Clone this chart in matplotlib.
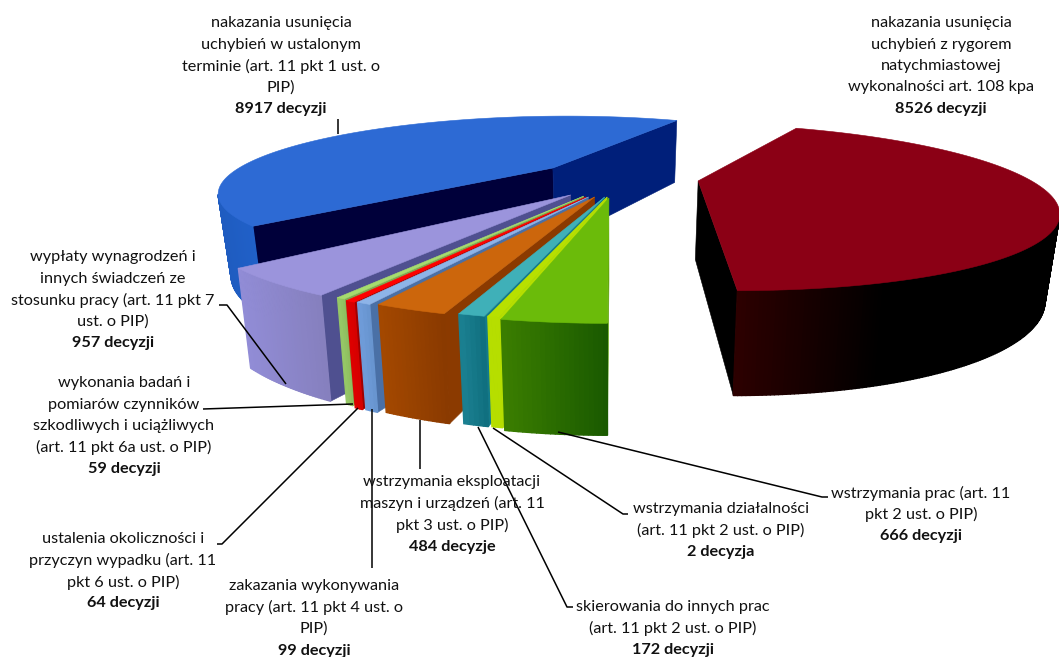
import numpy as np
import matplotlib
matplotlib.use('Agg')
import matplotlib.pyplot as plt
from matplotlib.colors import to_rgb

plt.rcParams['font.family'] = ['Lato', 'DejaVu Sans']

# slices clockwise, starting at the front of the pie
# (lime is labelled 2 in the source but is drawn far wider than that)
values = [666, 75, 172, 484, 99, 64, 59, 957, 8917, 8526]

top_colors = ['#6BBB0A', '#B8E000', '#3FB0B8', '#CC660C', '#8DB4E8',
              '#FF0000', '#A6DC6E', '#9B94DC', '#2D6AD4', '#8B0015']
wall_left = ['#3A7D00', '#B6DE00', '#1A7F90', '#A34800', '#6E9BD8',
             '#DD0000', '#95C766', '#918CD6', '#1F5CC0', '#2C0000']
wall_right = ['#1A5A00', '#B6DE00', '#107080', '#8A3A00', '#6895D0',
              '#D60000', '#8FBF60', '#8680BE', '#2060C8', '#000000']
start_wall = ['#5FA408', '#B6DE00', '#147A8A', '#8B3A00', '#4A70A6',
              '#A00000', '#7FA850', '#4F5090', '#00003A', '#000000']
end_wall = ['#3A7D00', '#B6DE00', '#147A8A', '#8B3A00', '#4A70A6',
            '#A00000', '#7FA850', '#4F5090', '#001F7A', '#000000']
# share of the wall over which the shading runs out
shade_reach = [1, 1, 1, 1, 1, 1, 1, 1, 1, 0.45]

# how far each slice is pulled out of the pie, and its size
explode_x = [-0.009, -0.014, -0.021, -0.05, -0.068, -0.075, -0.082, -0.12, -0.192, 0.265]
explode_y = [0.202, 0.19, 0.19, 0.19, 0.19, 0.19, 0.18, 0.166, -0.2, -0.015]
radius = [1, 1, 1, 1, 1, 1, 1, 1, 1.02, 1.025]
draw_order = [8, 9, 7, 6, 5, 4, 3, 2, 1, 0]

labels = [
    ('nakazania usunięcia\nuchybień w ustalonym\nterminie (art. 11 pkt 1 ust. o\nPIP)', '8917 decyzji', 281, 23),
    ('nakazania usunięcia\nuchybień z rygorem\nnatychmiastowej\nwykonalności art. 108 kpa', '8526 decyzji', 941, 23),
    ('wypłaty wynagrodzeń i\ninnych świadczeń ze\nstosunku pracy (art. 11 pkt 7\nust. o PIP)', '957 decyzji', 113, 257),
    ('wykonania badań i\npomiarów czynników\nszkodliwych i uciążliwych\n(art. 11 pkt 6a ust. o PIP)', '59 decyzji', 124, 383),
    ('ustalenia okoliczności i\nprzyczyn wypadku (art. 11\npkt 6 ust. o PIP)', '64 decyzji', 123, 539),
    ('zakazania wykonywania\npracy (art. 11 pkt 4 ust. o\nPIP)', '99 decyzji', 314, 586),
    ('wstrzymania eksploatacji\nmaszyn i urządzeń (art. 11\npkt 3 ust. o PIP)', '484 decyzje', 452, 482),
    ('skierowania do innych prac\n(art. 11 pkt 2 ust. o PIP)', '172 decyzji', 673, 607),
    ('wstrzymania działalności\n(art. 11 pkt 2 ust. o PIP)', '2 decyzja', 721, 509),
    ('wstrzymania prac (art. 11\npkt 2 ust. o PIP)', '666 decyzji', 921, 493),
]

leaders = [
    ([338, 338], [119, 134]),
    ([219, 227, 286], [305, 305, 384]),
    ([203, 353], [409, 404]),
    ([217, 222, 358], [544, 544, 408]),
    ([372, 372], [409, 568]),
    ([420, 420], [420, 469]),
    ([573, 567, 478], [607, 607, 427]),
    ([628, 623, 493], [514, 514, 428]),
    ([828, 822, 558], [497, 497, 432]),
]

# perspective camera for the 3d pie
CX, CY = 612, 182
DIST = 3.26
AX, BY = 1065, 242
HZ, HDIST = 321, 4.07
BOTTOM_PINCH = 0.967  # verticals lean in towards the centre going down


def project(x, y):
    w = DIST - y
    return CX + AX * x / w, CY + BY * y / w


def drop(y):
    return HZ / (HDIST - y)


def low_x(sx):
    return CX + (sx - CX) * BOTTOM_PINCH


def direction(t):
    return np.sin(t), -np.cos(t)


def fill(ax, xs, ys, color, lw=0.4):
    ax.fill(xs, ys, facecolor=color, edgecolor=color, linewidth=lw)


def radial_wall(ax, tip, t, r, color):
    x1, y1 = tip[0] + r * direction(t)[0], tip[1] + r * direction(t)[1]
    sx0, sy0 = project(*tip)
    sx1, sy1 = project(x1, y1)
    fill(ax, [sx0, sx1, low_x(sx1), low_x(sx0)],
         [sy0, sy1, sy1 + drop(y1), sy0 + drop(tip[1])], color)


def draw_slice(ax, i, a0, a1):
    tip = (explode_x[i], explode_y[i])
    view = (-tip[0], DIST - tip[1])
    r = radius[i]

    # side walls facing the camera
    n0 = (-np.cos(a0), -np.sin(a0))
    n1 = (np.cos(a1), np.sin(a1))
    if view[0] * n0[0] + view[1] * n0[1] > 0:
        radial_wall(ax, tip, a0, r, start_wall[i])
    if view[0] * n1[0] + view[1] * n1[1] > 0:
        radial_wall(ax, tip, a1, r, end_wall[i])

    # outer curved wall
    ts = np.linspace(a0, a1, max(int(np.degrees(a1 - a0) * 2), 4))
    px = tip[0] + r * np.sin(ts)
    py = tip[1] - r * np.cos(ts)
    sx, sy = project(px, py)
    hs = drop(py)
    seen = (-px) * np.sin(ts) + (DIST - py) * (-np.cos(ts)) > 0
    idx = np.where(seen[:-1] & seen[1:])[0]
    if len(idx):
        lo, hi = sx[idx].min(), sx[idx].max()
        for k in idx:
            f = min((sx[k] - lo) / max(hi - lo, 1) / shade_reach[i], 1)
            c = (1 - f) * np.array(to_rgb(wall_left[i])) + f * np.array(to_rgb(wall_right[i]))
            fill(ax, [sx[k], sx[k + 1], low_x(sx[k + 1]), low_x(sx[k])],
                 [sy[k], sy[k + 1], sy[k + 1] + hs[k + 1], sy[k] + hs[k]], tuple(c), lw=1.0)

    # top face
    sx0, sy0 = project(*tip)
    fill(ax, np.r_[sx0, sx], np.r_[sy0, sy], top_colors[i])


fig = plt.figure(figsize=(10.59, 6.57), dpi=100)
ax = fig.add_axes([0, 0, 1, 1])
ax.set_xlim(0, 1059)
ax.set_ylim(657, 0)
ax.axis('off')

shares = np.array(values) / sum(values) * 2 * np.pi
ends = np.pi + np.cumsum(shares)
starts = ends - shares

for i in draw_order:
    draw_slice(ax, i, starts[i], ends[i])

for xs, ys in leaders:
    ax.plot(xs, ys, color='black', lw=1.1, solid_capstyle='butt')

LINE = 21.5
for body, bold, x, y in labels:
    rows = body.split('\n')
    for n, row in enumerate(rows):
        ax.text(x, y + n * LINE, row, ha='center', va='center', fontsize=11.7, color='#111111')
    ax.text(x, y + len(rows) * LINE, bold, ha='center', va='center', fontsize=11.7,
            fontweight='bold', color='#111111')

fig.savefig('out.png', dpi=100)
